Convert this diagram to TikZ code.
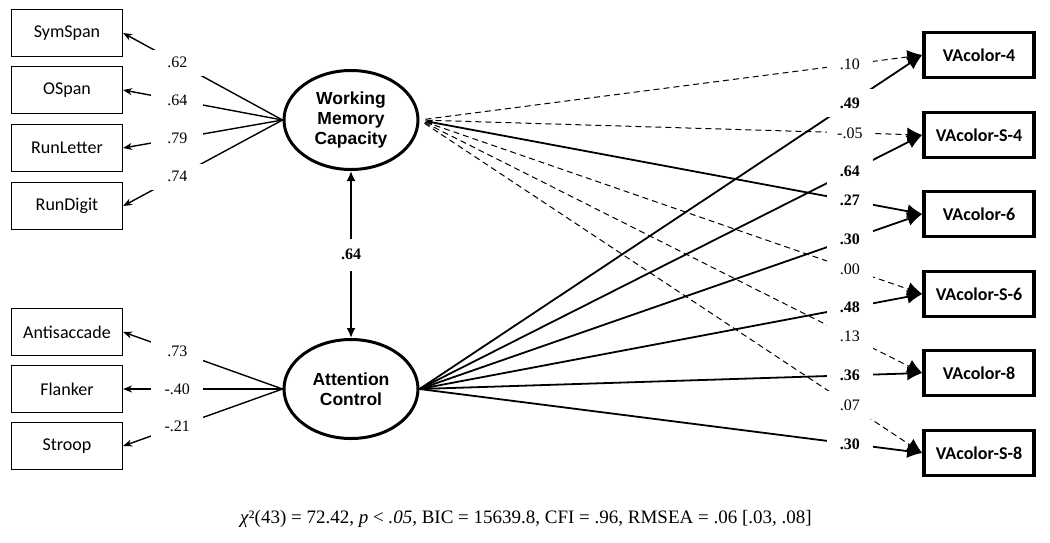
\documentclass[tikz,border=0pt]{standalone}
\usepackage{fontspec}
\setmainfont{Liberation Serif}
\newfontfamily\calfont{Carlito}
\newfontfamily\arialfont{Liberation Sans}
\usetikzlibrary{arrows.meta,shapes.geometric}

\tikzset{
  obsbox/.style={draw, line width=1.2pt, minimum width=111pt, minimum height=47pt,
    inner sep=0pt, font=\calfont\fontsize{18}{20}\selectfont},
  taskbox/.style={draw, line width=3.5pt, minimum width=110pt, minimum height=45pt,
    inner sep=0pt, font=\calfont\bfseries\fontsize{18}{20}\selectfont},
  latent/.style={draw, ellipse, line width=3pt, minimum width=134pt, minimum height=99pt,
    inner sep=0pt, align=center, font=\arialfont\bfseries\fontsize{17.5}{20}\selectfont},
  loading/.style={line width=1.4pt, -{Stealth[length=9pt,width=7pt]}},
  regpath/.style={line width=1.8pt, -{Latex[length=15pt,width=14pt]}},
  nspath/.style={regpath, line width=1pt, dash pattern=on 6pt off 4pt},
  llab/.style={fill=white, inner sep=0pt, minimum width=52pt, minimum height=26pt,
    font=\fontsize{16}{18}\selectfont},
  rlab/.style={llab, minimum width=46pt, minimum height=28pt},
  blab/.style={rlab, font=\bfseries\fontsize{16}{18}\selectfont}
}

\begin{document}
\begin{tikzpicture}[x=1pt,y=-1pt]
\useasboundingbox (0,0) rectangle (1050,542);

% indicators
\node[obsbox] (sym) at (67,33) {SymSpan};
\node[obsbox] (ospan) at (67,90) {OSpan};
\node[obsbox] (runlet) at (67,148) {RunLetter};
\node[obsbox] (rundig) at (67,206) {RunDigit};
\node[obsbox] (anti) at (67,332) {Antisaccade};
\node[obsbox] (flank) at (67,389) {Flanker};
\node[obsbox] (stroop) at (67,446) {Stroop};

% latent factors
\node[latent] (wmc) at (351,120) {Working\\Memory\\Capacity};
\node[latent] (ac) at (351,389) {Attention\\Control};

% outcomes
\node[taskbox] (va4) at (979,55) {VAcolor-4};
\node[taskbox] (vas4) at (979,135) {VAcolor-S-4};
\node[taskbox] (va6) at (979,214) {VAcolor-6};
\node[taskbox] (vas6) at (979,294) {VAcolor-S-6};
\node[taskbox] (va8) at (979,373) {VAcolor-8};
\node[taskbox] (vas8) at (979,453) {VAcolor-S-8};

% loadings
\draw[loading] (wmc.west) -- node[llab, pos=0.66] {.62} (sym.east);
\draw[loading] (wmc.west) -- node[llab, pos=0.66] {.64} (ospan.east);
\draw[loading] (wmc.west) -- node[llab, pos=0.66] {.79} (runlet.east);
\draw[loading] (wmc.west) -- node[llab, pos=0.66] {.74} (rundig.east);
\draw[loading] (ac.west) -- node[llab, pos=0.66] {.73} (anti.east);
\draw[loading] (ac.west) -- node[llab, pos=0.66] {-.40} (flank.east);
\draw[loading] (ac.west) -- node[llab, pos=0.66] {-.21} (stroop.east);

% factor correlation
\draw[line width=1.8pt, {Latex[length=10pt,width=9pt]}-{Latex[length=10pt,width=9pt]}]
  (wmc.south) -- node[fill=white, inner sep=0pt, minimum width=30pt, minimum height=32pt,
  font=\bfseries\fontsize{16}{18}\selectfont] {.64} (ac.north);

% paths from WMC
\draw[nspath, shorten <=6pt] (wmc.east) -- node[rlab, pos=0.856] {.10} (va4.west);
\draw[nspath, shorten <=6pt] (wmc.east) -- node[rlab, pos=0.856] {-.05} (vas4.west);
\draw[regpath, shorten <=6pt, {Latex[length=7pt,width=6pt]}-{Latex[length=15pt,width=14pt]}]
  (wmc.east) -- node[blab, pos=0.856] {.27} (va6.west);
\draw[nspath, shorten <=6pt] (wmc.east) -- node[rlab, pos=0.856] {.00} (vas6.west);
\draw[nspath, shorten <=6pt] (wmc.east) -- node[rlab, pos=0.856] {.13} (va8.west);
\draw[nspath, shorten <=6pt] (wmc.east) -- node[rlab, pos=0.856] {.07} (vas8.west);

% paths from AC
\draw[regpath] (ac.east) -- node[blab, pos=0.856] {.49} (va4.west);
\draw[regpath] (ac.east) -- node[blab, pos=0.856] {.64} (vas4.west);
\draw[regpath] (ac.east) -- node[blab, pos=0.856] {.30} (va6.west);
\draw[regpath] (ac.east) -- node[blab, pos=0.856] {.48} (vas6.west);
\draw[regpath] (ac.east) -- node[blab, pos=0.856] {.36} (va8.west);
\draw[regpath] (ac.east) -- node[blab, pos=0.856] {.30} (vas8.west);

% fit
\node[font=\fontsize{19}{21}\selectfont] (fit) at (526,519)
  {\textit{χ}²(43) = 72.42, \textit{p} < \textit{.05}, BIC = 15639.8, CFI = .96, RMSEA = .06 [.03, .08]};
\end{tikzpicture}
\end{document}
